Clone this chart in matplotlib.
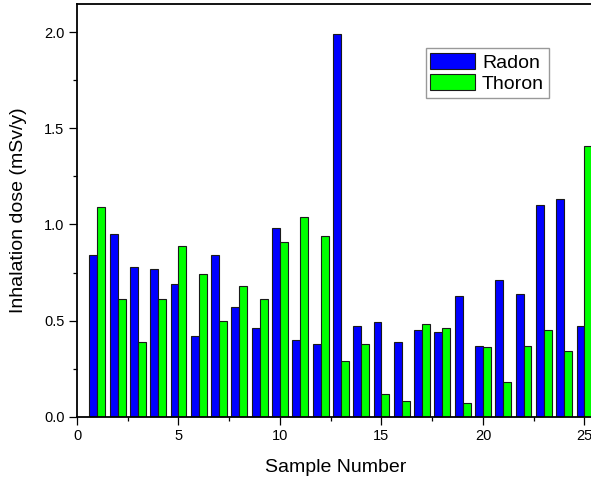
"""
Inhalation dose from radon and thoron for each sample.
"""

import matplotlib
matplotlib.use('Agg')
import matplotlib.pyplot as plt
import numpy as np
from matplotlib.ticker import MultipleLocator

plt.rcParams['font.family'] = ['Liberation Sans', 'DejaVu Sans']

samples = np.arange(1, 26)
radon = [0.84, 0.95, 0.78, 0.77, 0.69, 0.42, 0.84, 0.57, 0.46, 0.98,
         0.40, 0.38, 1.99, 0.47, 0.49, 0.39, 0.45, 0.44, 0.63, 0.37,
         0.71, 0.64, 1.10, 1.13, 0.47]
thoron = [1.09, 0.61, 0.39, 0.61, 0.89, 0.74, 0.50, 0.68, 0.61, 0.91,
          1.04, 0.94, 0.29, 0.38, 0.12, 0.08, 0.48, 0.46, 0.07, 0.36,
          0.18, 0.37, 0.45, 0.34, 1.41]

fig = plt.figure(figsize=(5.91, 4.83), dpi=100)
# axes run a little past the right edge, as in the original export
ax = fig.add_axes([0.1303, 0.1373, 0.8741, 0.8545])

width = 0.39
ax.bar(samples - width / 2, radon, width, color='#0000ff',
       edgecolor='#1a1a1a', linewidth=0.8, label='Radon')
ax.bar(samples + width / 2, thoron, width, color='#00ff00',
       edgecolor='#1a1a1a', linewidth=0.8, label='Thoron')

ax.set_xlim(0, 25.45)
ax.set_ylim(0, 2.147)
ax.xaxis.set_major_locator(MultipleLocator(5))
ax.xaxis.set_minor_locator(MultipleLocator(2.5))
ax.yaxis.set_major_locator(MultipleLocator(0.5))
ax.yaxis.set_minor_locator(MultipleLocator(0.25))
ax.yaxis.set_major_formatter(matplotlib.ticker.FormatStrFormatter('%.1f'))

ax.tick_params(which='major', direction='out', length=6, width=0.9,
               labelsize=10.5, pad=3)
ax.tick_params(which='minor', direction='out', length=3, width=0.9)
for side in ax.spines.values():
    side.set_linewidth(1.3)

ax.set_xlabel('Sample Number', fontsize=14)
ax.set_ylabel('Inhalation dose (mSv/y)', fontsize=14)
ax.xaxis.set_label_coords(0.5, -0.102)
ax.yaxis.set_label_coords(-0.097, 0.5)

leg = ax.legend(loc='upper left', bbox_to_anchor=(425.5 / 591, 1 - 48 / 483),
                bbox_transform=fig.transFigure, fontsize=14, fancybox=False,
                framealpha=1, edgecolor='#999999', handlelength=2.3,
                handleheight=0.88, handletextpad=0.35, borderpad=0.25,
                labelspacing=0.15, borderaxespad=0)
leg.get_frame().set_linewidth(1.0)

fig.savefig('out.png', dpi=100)
